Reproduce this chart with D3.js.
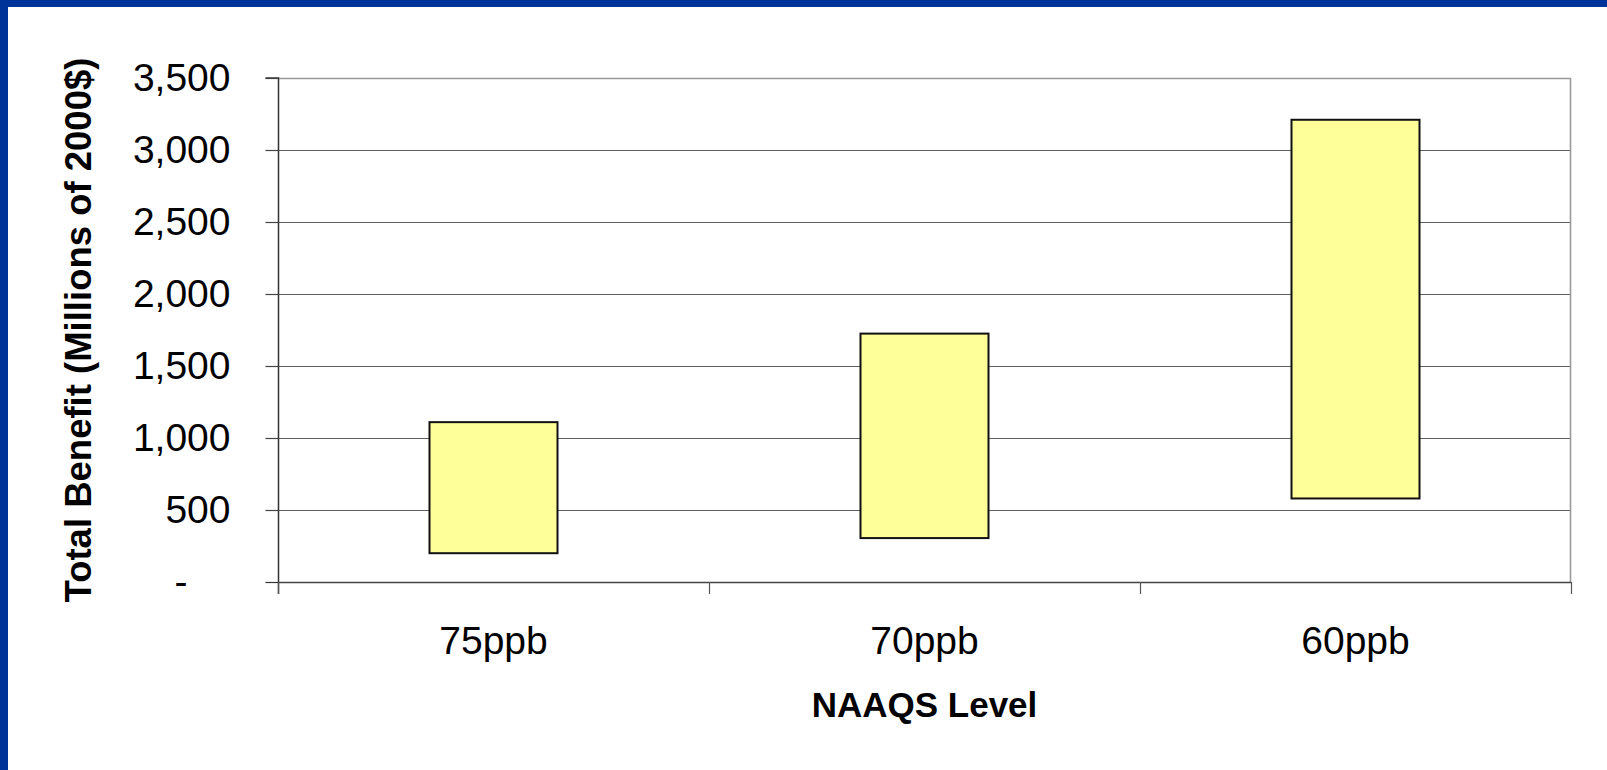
<!DOCTYPE html>
<html>
<head>
<meta charset="utf-8">
<script src="https://cdn.jsdelivr.net/npm/d3@7"></script>
<style>
  html, body { margin: 0; padding: 0; background: #ffffff; }
  svg { display: block; }
  text { font-family: "Liberation Sans", Arial, sans-serif; fill: #000; }
</style>
</head>
<body>
<svg id="chart" width="1607" height="770"></svg>
<script>
// ---- data ----
const categories = ["75ppb", "70ppb", "60ppb"];
const lowValues  = [200, 305, 580];
const highValues = [1110, 1725, 3210];
const yTicks = [0, 500, 1000, 1500, 2000, 2500, 3000, 3500];
const xTitle = "NAAQS Level";
const yTitle = "Total Benefit (Millions of 2000$)";

// ---- layout ----
const W = 1607, H = 770;
const plot = { left: 278, right: 1571, top: 78, bottom: 582 };

const svg = d3.select("#chart");

// background + blue frame (top and left)
svg.append("rect").attr("x", 0).attr("y", 0).attr("width", W).attr("height", H).attr("fill", "#ffffff");
svg.append("rect").attr("x", 0).attr("y", 0).attr("width", W).attr("height", 7).attr("fill", "#003399");
svg.append("rect").attr("x", 0).attr("y", 0).attr("width", 8).attr("height", H).attr("fill", "#003399");

const y = d3.scaleLinear().domain([0, 3500]).range([plot.bottom, plot.top]);
const x = d3.scaleBand().domain(categories).range([plot.left, plot.right]).padding(0);
const barFrac = 0.297;

// gridlines
svg.append("g").selectAll("line").data(yTicks.filter(d => d > 0 && d < 3500)).join("line")
  .attr("x1", plot.left).attr("x2", plot.right)
  .attr("y1", d => Math.round(y(d)) + 0.5).attr("y2", d => Math.round(y(d)) + 0.5)
  .attr("stroke", "#5f5f5f").attr("stroke-width", 1.2);

// plot border top/right
svg.append("path")
  .attr("d", `M${plot.left},${plot.top + 0.5}H${plot.right - 0.5}V${plot.bottom}`)
  .attr("fill", "none").attr("stroke", "#999999").attr("stroke-width", 1.6);

// bars (floating ranges)
const data = categories.map((c, i) => ({ c, lo: lowValues[i], hi: highValues[i] }));
svg.append("g").selectAll("rect").data(data).join("rect")
  .attr("x", d => x(d.c) + x.bandwidth() * (1 - barFrac) / 2)
  .attr("width", x.bandwidth() * barFrac)
  .attr("y", d => y(d.hi))
  .attr("height", d => y(d.lo) - y(d.hi))
  .attr("fill", "#ffff99")
  .attr("stroke", "#111111")
  .attr("stroke-width", 2);

// y axis
const yAxis = d3.axisLeft(y)
  .tickValues(yTicks)
  .tickSize(13)
  .tickPadding(35)
  .tickFormat(d => d === 0 ? "-" : d3.format(",")(d));
const gy = svg.append("g").attr("transform", `translate(${plot.left + 0.5},0)`).call(yAxis);
gy.select(".domain").attr("stroke", "#333333").attr("stroke-width", 1.5)
  .attr("d", `M-13,${plot.top}H0V${plot.bottom + 12}`);
gy.selectAll(".tick line").attr("stroke", "#444444").attr("stroke-width", 1.2);
gy.selectAll(".tick text")
  .style("font-family", '"Liberation Sans", Arial, sans-serif')
  .attr("font-size", 39).attr("fill", "#000")
  .attr("dx", d => d === 0 ? -43 : 0);
gy.selectAll(".tick").filter(d => d === 0).select("line").attr("stroke", "#333333");

// x axis line
svg.append("line")
  .attr("x1", plot.left).attr("x2", plot.right)
  .attr("y1", plot.bottom + 0.5).attr("y2", plot.bottom + 0.5)
  .attr("stroke", "#444444").attr("stroke-width", 1.5);

// x tick marks at band boundaries
const boundaries = categories.map(c => x(c)).concat([x.range()[1]]);
svg.append("g").selectAll("line").data(boundaries).join("line")
  .attr("x1", d => Math.round(d) + 0.5).attr("x2", d => Math.round(d) + 0.5)
  .attr("y1", plot.bottom).attr("y2", plot.bottom + 12)
  .attr("stroke", "#555555").attr("stroke-width", 1.2);

// x tick labels
svg.append("g").selectAll("text").data(categories).join("text")
  .attr("x", d => x(d) + x.bandwidth() / 2)
  .attr("y", 654)
  .attr("text-anchor", "middle")
  .attr("font-size", 39)
  .text(d => d);

// x title
svg.append("text")
  .attr("x", (plot.left + plot.right) / 2)
  .attr("y", 717)
  .attr("text-anchor", "middle")
  .attr("font-size", 35)
  .attr("font-weight", "bold")
  .text(xTitle);

// y title
svg.append("text")
  .attr("transform", `translate(91,${(plot.top + plot.bottom) / 2}) rotate(-90)`)
  .attr("text-anchor", "middle")
  .attr("font-size", 36.5)
  .attr("font-weight", "bold")
  .text(yTitle);
</script>
</body>
</html>
